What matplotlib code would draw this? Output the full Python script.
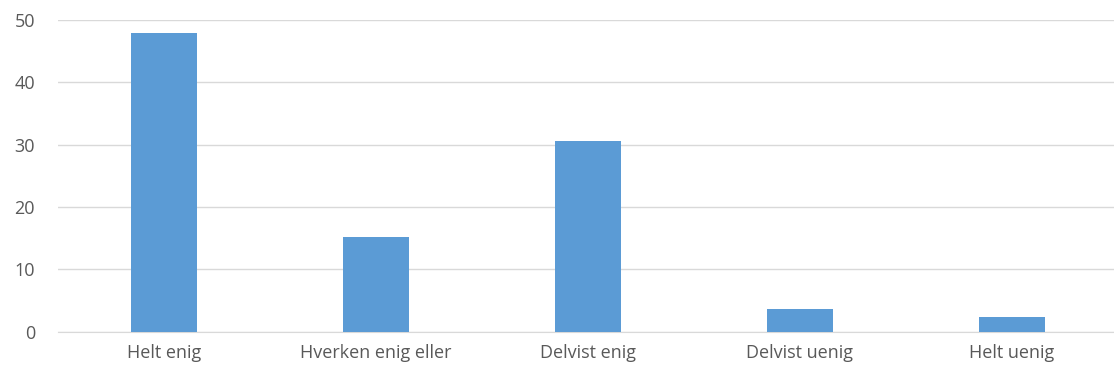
import matplotlib
matplotlib.use("Agg")
import matplotlib.pyplot as plt

categories = ["Helt enig", "Hverken enig eller", "Delvist enig", "Delvist uenig", "Helt uenig"]
values = [47.9, 15.2, 30.6, 3.6, 2.4]
yticks = [0, 10, 20, 30, 40, 50]

plt.rcParams['font.family'] = ['Open Sans', 'DejaVu Sans']

fig = plt.figure(figsize=(11.14, 3.78), dpi=100)
ax = fig.add_axes([58/1114, (378-331.7)/378, (1118-58)/1114, (331.7-20)/378])
x = list(range(len(categories)))
ax.bar(x, values, width=0.31, color="#5B9BD5", zorder=3)
ax.set_xlim(-0.5, len(categories) - 0.5)
ax.set_ylim(0, 50)
ax.set_yticks(yticks)
ax.set_xticks(x)
ax.set_xticklabels(categories)
ax.yaxis.grid(True, color="#D9D9D9", linewidth=1.0, zorder=0)
ax.set_axisbelow(True)
for s in ["top", "right", "left"]:
    ax.spines[s].set_visible(False)
ax.spines["bottom"].set_color("#D9D9D9")
ax.tick_params(axis="both", length=0, labelsize=13, labelcolor="#595959")
ax.tick_params(axis="y", pad=16.5)
ax.tick_params(axis="x", pad=9)
for lbl in ax.get_yticklabels():
    lbl.set_horizontalalignment("right")
fig.savefig("out.png", dpi=100)
